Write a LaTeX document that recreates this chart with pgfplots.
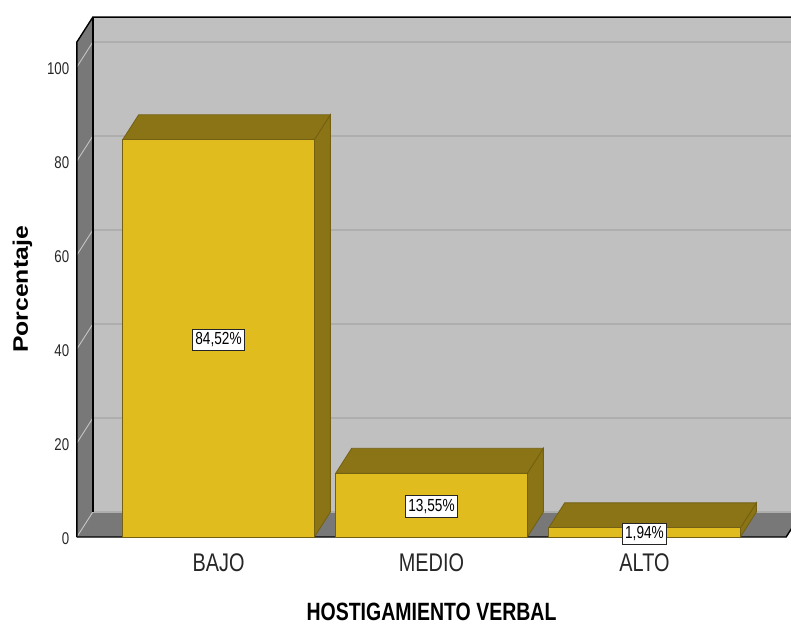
\documentclass[border=0pt]{standalone}
\usepackage{pgfplots}
\pgfplotsset{compat=1.18}
\usepackage{pgfplotstable}
\usepackage{fontspec}
\setmainfont{Liberation Sans}[FakeStretch=0.78]
\newfontfamily\ylabfont{Liberation Sans}[FakeStretch=1.18]

\definecolor{barfront}{RGB}{224,188,30}
\definecolor{bardark}{RGB}{139,116,22}
\definecolor{baredge}{RGB}{115,96,18}
\definecolor{wallback}{RGB}{192,192,192}
\definecolor{walldark}{RGB}{120,120,120}
\definecolor{gridback}{RGB}{174,174,174}
\definecolor{gridside}{RGB}{196,196,196}

\pgfplotstableread{
x y
0 84.52
1 13.55
2 1.94
}\datatable

% depth of the 3D effect in axis units: 16px / 213px and 25px / 4.7px
\def\dxu{0.07512}
\def\dyu{5.3191}
\def\hbw{0.45}

\begin{document}
\begin{tikzpicture}
\begin{axis}[
  x=213pt, y=4.7pt,
  anchor=origin, at={(218.5pt,88pt)},
  xmin=-0.665, xmax=2.665, ymin=0, ymax=105.3,
  clip=false,
  axis line style={draw=none},
  tick style={draw=none},
  xtick={0,1,2},
  xticklabels={BAJO,MEDIO,ALTO},
  ytick={0,20,40,60,80,100},
  /pgf/number format/assume math mode=true,
  yticklabel style={font=\fontsize{17}{17}\selectfont, anchor=east, inner sep=0pt, xshift=-7.5pt, yshift=-2pt, text=black!85},
  xticklabel style={font=\fontsize{25.5}{25.5}\selectfont, anchor=north, inner sep=0pt, yshift=-16pt, text=black!85},
]
% back wall
\fill[wallback] ([shift={(16pt,25pt)}]rel axis cs:0,0) rectangle ([shift={(16pt,25pt)}]rel axis cs:1,1);
% left wall
\fill[walldark] (rel axis cs:0,0) -- (rel axis cs:0,1) -- ([shift={(16pt,25pt)}]rel axis cs:0,1) -- ([shift={(16pt,25pt)}]rel axis cs:0,0) -- cycle;
% floor
\fill[walldark] (rel axis cs:0,0) -- (rel axis cs:1,0) -- ([shift={(16pt,25pt)}]rel axis cs:1,0) -- ([shift={(16pt,25pt)}]rel axis cs:0,0) -- cycle;
% grid lines
\pgfplotsinvokeforeach{0,20,40,60,80,100}{
  \draw[gridback, line width=1.6pt] ([shift={(16pt,25pt)}]axis cs:-0.665,#1) -- ([shift={(16pt,25pt)}]axis cs:2.665,#1);
  \draw[gridside, line width=0.9pt] (axis cs:-0.665,#1) -- ([shift={(16pt,25pt)}]axis cs:-0.665,#1);
}
% wall edges
\draw[black, line width=1.4pt] (rel axis cs:0,0) -- (rel axis cs:0,1) -- ([shift={(16pt,25pt)}]rel axis cs:0,1) -- ([shift={(16pt,25pt)}]rel axis cs:1,1);
\draw[black, line width=1.4pt] ([shift={(16pt,25pt)}]rel axis cs:0,0) -- ([shift={(16pt,25pt)}]rel axis cs:0,1);
\draw[black, line width=1.4pt] (rel axis cs:0,0) -- (rel axis cs:1,0) -- ([shift={(16pt,25pt)}]rel axis cs:1,0);

% 3D faces of the bars (top and side), computed from the table values
\pgfplotsinvokeforeach{0,1,2}{
  \pgfplotstablegetelem{#1}{y}\of\datatable
  \pgfmathsetmacro\barv{\pgfplotsretval}
  \pgfmathsetmacro\barvt{\barv+\dyu}
  \pgfmathsetmacro\xl{#1-\hbw}
  \pgfmathsetmacro\xr{#1+\hbw}
  \pgfmathsetmacro\xlb{#1-\hbw+\dxu}
  \pgfmathsetmacro\xrb{#1+\hbw+\dxu}
  \edef\sideplot{\noexpand\addplot[fill=bardark, draw=baredge, line width=0.8pt, mark=none] coordinates {(\xr,0) (\xr,\barv) (\xrb,\barvt) (\xrb,\dyu)}}
  \sideplot -- cycle;
  \edef\topplot{\noexpand\addplot[fill=bardark, draw=baredge, line width=0.8pt, mark=none] coordinates {(\xl,\barv) (\xr,\barv) (\xrb,\barvt) (\xlb,\barvt)}}
  \topplot -- cycle;
}
% front faces
\addplot[ybar, bar width=0.9, fill=barfront, draw=baredge, line width=0.8pt] table[x=x, y=y] {\datatable};
% value labels
\addplot[draw=none, mark=none,
  nodes near coords={\pgfmathprintnumber[fixed, fixed zerofill, precision=2, use comma]{\pgfplotspointmeta}\%},
  nodes near coords align={center},
  point meta=explicit,
  every node near coord/.append style={anchor=center, fill=white, draw=black!85, line width=1pt, inner xsep=2.5pt, inner ysep=3.5pt, yshift=-1.5pt, text=black, font=\fontsize{17.5}{17.5}\selectfont}
] table[x=x, y expr=\thisrow{y}/2, meta=y] {\datatable};

\node[rotate=90, anchor=base, font=\ylabfont\bfseries\fontsize{21}{21}\selectfont] at ([xshift=-49pt]axis description cs:0,0.5) {Porcentaje};
\node[anchor=north, inner sep=0pt, font=\bfseries\fontsize{25}{25}\selectfont] at ([yshift=-65.5pt]axis description cs:0.5,0) {HOSTIGAMIENTO VERBAL};
\end{axis}
\pgfresetboundingbox
\useasboundingbox (0,0) rectangle (791pt,625pt);
\end{tikzpicture}
\end{document}
